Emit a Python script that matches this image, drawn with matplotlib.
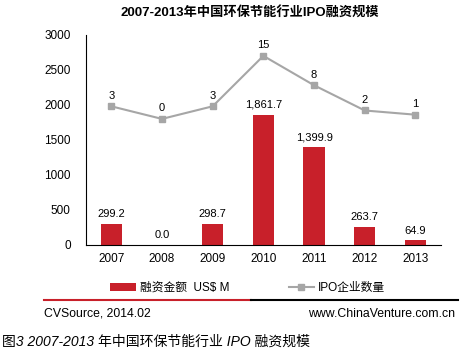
import matplotlib.pyplot as plt
from matplotlib.lines import Line2D
import numpy as np

plt.rcParams['font.family'] = ['Liberation Sans', 'Noto Sans CJK SC', 'DejaVu Sans']

years = ["2007", "2008", "2009", "2010", "2011", "2012", "2013"]
amount = [299.2, 0.0, 298.7, 1861.7, 1399.9, 263.7, 64.9]
ipo_count = [3, 0, 3, 15, 8, 2, 1]

red = "#C8202A"
grey = "#A6A6A6"

fig = plt.figure(figsize=(4.72, 3.52), dpi=100)
ax = fig.add_axes([0.182, 0.304, 0.752, 0.597])
x = np.arange(len(years))

bars = ax.bar(x, amount, width=0.42, color=red, zorder=2)
for xi, v in zip(x, amount):
    ax.text(xi, v + 70, f"{v:,.1f}", ha="center", va="bottom", fontsize=8)

ax.set_ylim(0, 3000)
ax.set_yticks(range(0, 3001, 500))
ax.set_xlim(-0.5, len(years) - 0.5)
ax.set_xticks(x)
ax.set_xticklabels(years)
ax.tick_params(length=0, labelsize=8.5, pad=6)
ax.tick_params(axis="y", pad=11)
for s in ["top", "right"]:
    ax.spines[s].set_visible(False)
for s in ["left", "bottom"]:
    ax.spines[s].set_linewidth(0.8)

ax2 = ax.twinx()
ax2.set_ylim(-30, 20)
ln, = ax2.plot(x, ipo_count, color=grey, lw=1.5, marker="s", markersize=4, zorder=3)
for xi, v in zip(x, ipo_count):
    ax2.text(xi, v + 1.3, str(v), ha="center", va="bottom", fontsize=8)
ax2.axis("off")

fig.legend(handles=[bars, ln], labels=["融资金额  US$ M", "IPO企业数量"],
           loc="center", bbox_to_anchor=(0.525, 0.182), ncol=2, frameon=False,
           fontsize=8.5, handlelength=2.2, handletextpad=0.3, columnspacing=5)

fig.text(0.53, 0.962, "2007-2013年中国环保节能行业IPO融资规模", ha="center", va="center",
         fontsize=9.5, fontweight="bold")

fig.add_artist(Line2D([44 / 472, 251 / 472], [1 - 300 / 352] * 2, color=red, lw=1.5))
fig.add_artist(Line2D([251 / 472, 458 / 472], [1 - 300 / 352] * 2, color="black", lw=1.5))
fig.text(44 / 472, 1 - 314 / 352, "CVSource, 2014.02", ha="left", va="center", fontsize=8.8)
fig.text(455 / 472, 1 - 314 / 352, "www.ChinaVenture.com.cn", ha="right", va="center", fontsize=8.8)
fig.text(2 / 472, 1 - 342 / 352, "图3 2007-2013 年中国环保节能行业 IPO 融资规模", ha="left",
         va="center", fontsize=10, style="italic")

fig.savefig("out.png", dpi=100)
